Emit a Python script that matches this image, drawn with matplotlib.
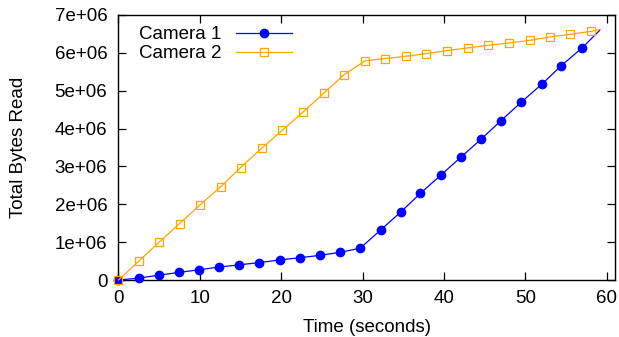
import matplotlib
matplotlib.use('Agg')
import matplotlib.pyplot as plt

# Samples for each camera: time (s) and cumulative bytes read
cam1_time = [0, 2.5, 5.0, 7.4, 9.9, 12.3, 14.8, 17.3, 19.8, 22.3, 24.7, 27.2, 29.7,
             32.2, 34.7, 37.1, 39.6, 42.1, 44.6, 47.0, 49.5, 52.0, 54.4, 57.0, 59.1]
cam1_bytes = [0, 0.05e6, 0.13e6, 0.20e6, 0.27e6, 0.34e6, 0.40e6, 0.46e6, 0.53e6, 0.59e6,
              0.65e6, 0.73e6, 0.84e6, 1.32e6, 1.80e6, 2.29e6, 2.77e6, 3.25e6, 3.73e6,
              4.21e6, 4.70e6, 5.17e6, 5.66e6, 6.14e6, 6.59e6]

cam2_time = [0, 2.5, 5.0, 7.5, 10.0, 12.6, 15.0, 17.6, 20.1, 22.7, 25.2, 27.7, 30.3,
             32.8, 35.3, 37.8, 40.4, 42.9, 45.4, 48.0, 50.5, 53.0, 55.5, 58.1, 59.2]
cam2_bytes = [0, 0.50e6, 1.00e6, 1.49e6, 1.98e6, 2.47e6, 2.97e6, 3.48e6, 3.95e6, 4.44e6,
              4.93e6, 5.42e6, 5.79e6, 5.85e6, 5.91e6, 5.98e6, 6.06e6, 6.13e6, 6.20e6,
              6.26e6, 6.33e6, 6.42e6, 6.49e6, 6.57e6, 6.62e6]

x_ticks = [0, 10, 20, 30, 40, 50, 60]
y_ticks = [0, 1e6, 2e6, 3e6, 4e6, 5e6, 6e6, 7e6]
y_tick_labels = ['0', '1e+06', '2e+06', '3e+06', '4e+06', '5e+06', '6e+06', '7e+06']

plt.rcParams['font.family'] = ['Liberation Sans', 'DejaVu Sans']

fig = plt.figure(figsize=(6.19, 3.37), dpi=100)
ax = fig.add_axes([0.1914, 0.1691, 0.8021, 0.7864])

# the last sample of each series is drawn without a marker
n1 = len(cam1_time) - 1
n2 = len(cam2_time) - 1
ax.plot(cam1_time, cam1_bytes, color='#0000ff', linewidth=0.9, marker='o',
        markersize=6.0, markevery=list(range(n1)), label='Camera 1',
        clip_on=False, zorder=3)
ax.plot(cam2_time, cam2_bytes, color='#ffa500', linewidth=0.9, marker='s',
        markersize=6.2, markerfacecolor='none', markeredgewidth=0.9,
        markevery=list(range(n2)), label='Camera 2', clip_on=False, zorder=4)

ax.set_xlim(0, 61)
ax.set_ylim(0, 7e6)
ax.set_xticks(x_ticks)
ax.set_yticks(y_ticks)
ax.set_yticklabels(y_tick_labels)

ax.tick_params(direction='in', length=5.5, width=0.9, labelsize=13.5,
               top=True, right=True, pad=7)
ax.tick_params(axis='y', pad=8)
for sp in ax.spines.values():
    sp.set_linewidth(1.0)

ax.set_xlabel('Time (seconds)', fontsize=13.5, labelpad=9)
ax.set_ylabel('Total Bytes Read', fontsize=13.5, labelpad=20)

ax.legend(loc='upper left', frameon=False, fontsize=13.5, markerfirst=False,
          handlelength=3.0, borderaxespad=0.2, labelspacing=0.1,
          bbox_to_anchor=(0.018, 1.0))

fig.savefig('out.png', dpi=100)
